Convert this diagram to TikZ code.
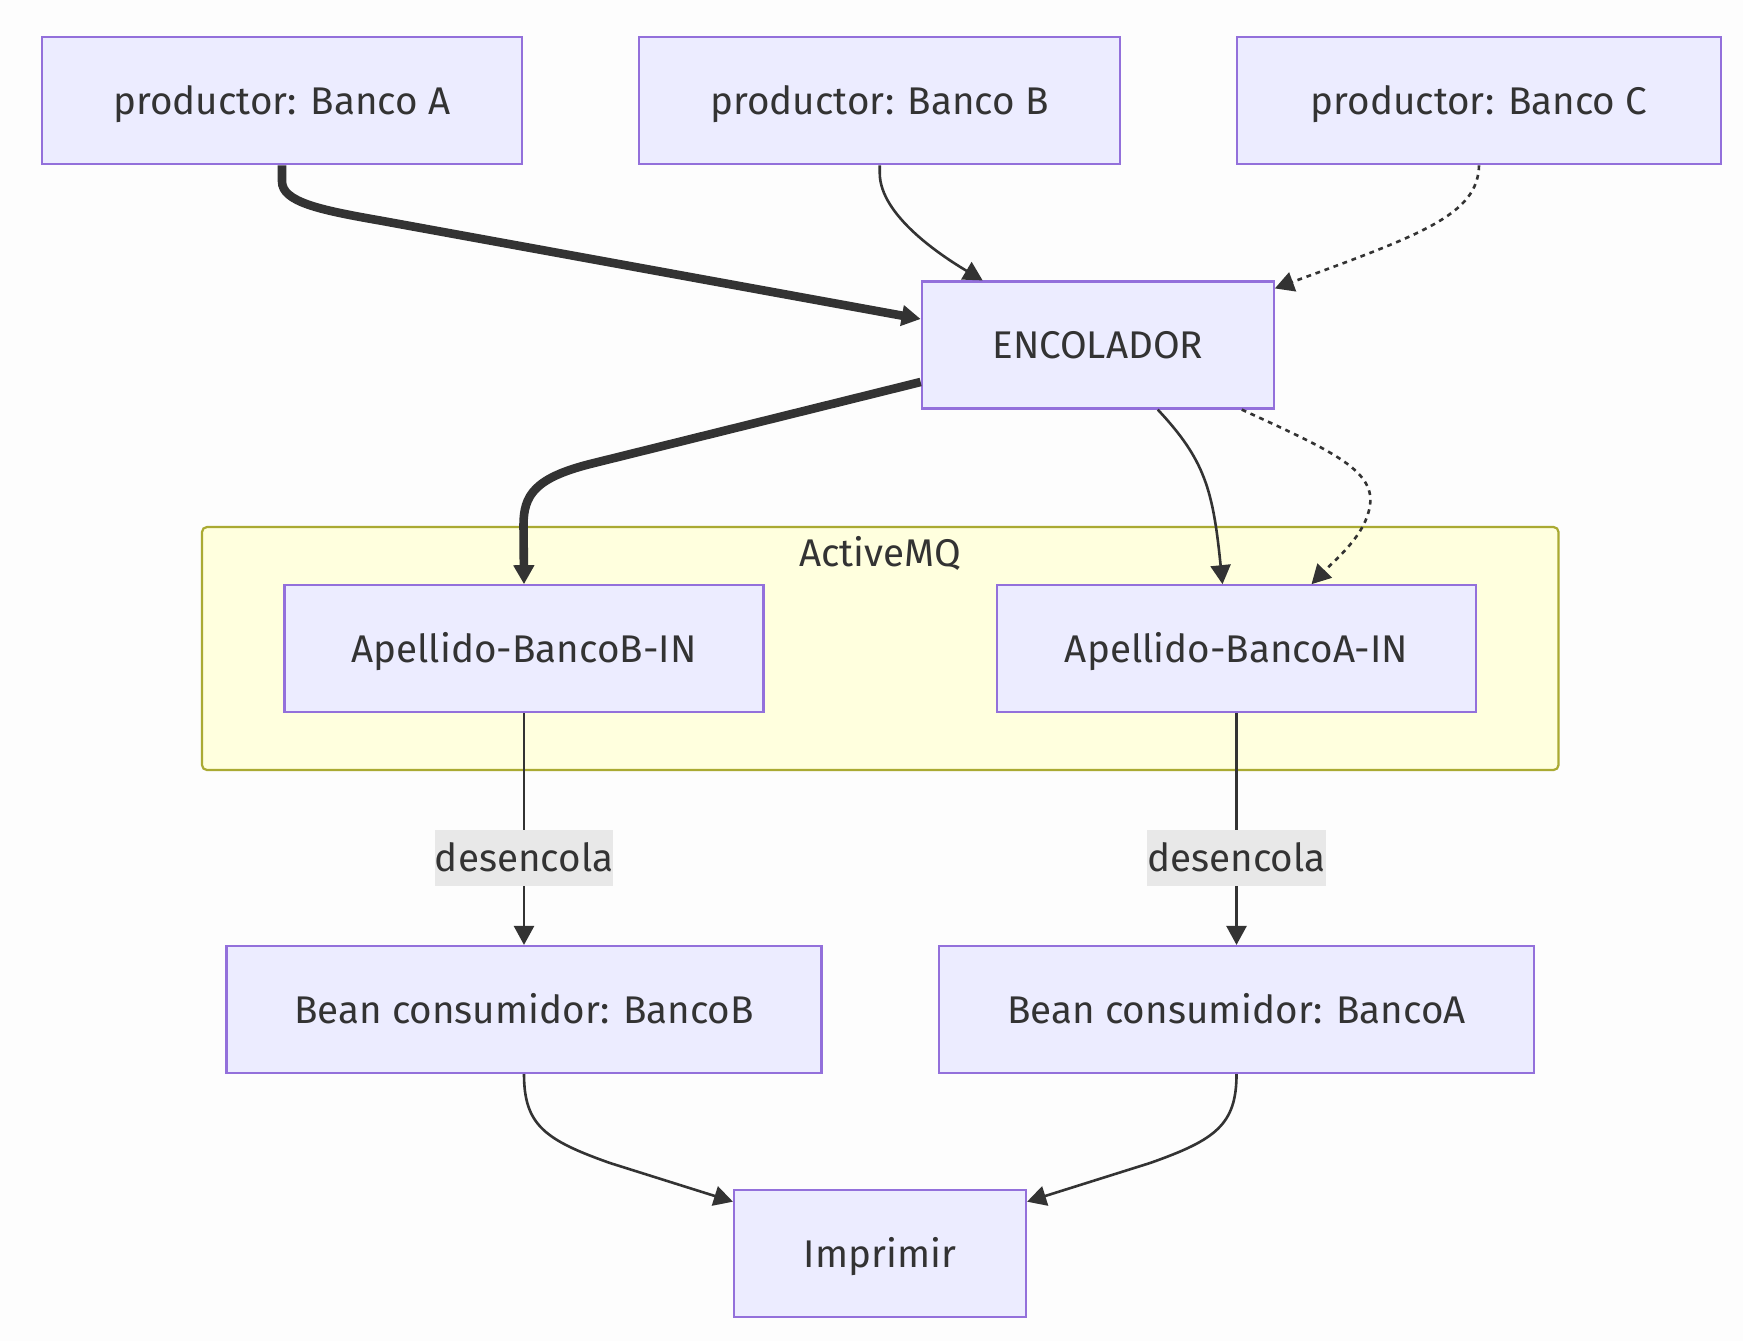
\documentclass[tikz,border=0pt]{standalone}
\usepackage{fontspec}
\setmainfont{Fira Sans}
\usetikzlibrary{arrows.meta,calc}
\definecolor{nodefill}{HTML}{ECECFF}
\definecolor{nodeline}{HTML}{9370DB}
\definecolor{clfill}{HTML}{FFFFDE}
\definecolor{clline}{HTML}{AAAA33}
\definecolor{ink}{HTML}{333333}
\definecolor{lblbg}{HTML}{E8E8E8}
\definecolor{bgc}{HTML}{FDFDFD}
\begin{document}
\begin{tikzpicture}[x=0.5pt,y=-0.5pt,
  txt/.style={text=ink,font=\fontsize{19.3}{23}\selectfont,text height=16pt,text depth=2.2pt},
  box/.style={txt,draw=nodeline,fill=nodefill,line width=1.1pt,minimum height=63.5pt,inner sep=0pt},
  cluster/.style={draw=clline,fill=clfill,line width=1.1pt,rounded corners=2.5pt},
  lbl/.style={txt,fill=lblbg,inner xsep=0pt,inner ysep=0pt,minimum height=28pt},
  conn/.style={draw=ink,line width=1.3pt,-{Triangle[length=9.5pt,width=10pt]}},
  thickconn/.style={conn,line width=4.3pt},
  dotconn/.style={conn,dash pattern=on 2.4pt off 2.4pt}
]
\useasboundingbox (0,0) rectangle (1743,1341);
\fill[bgc] (0,0) rectangle (1743,1341);
% cluster
\draw[cluster] (202,527) rectangle (1558.5,770);
\node[txt] (amq) at (880,553) {ActiveMQ};
% nodes
\node[box,minimum width=240pt] (A) at (282,100.75) {productor: Banco A};
\node[box,minimum width=240.5pt] (B) at (879.75,100.75) {productor: Banco B};
\node[box,minimum width=242pt] (C) at (1479,100.75) {productor: Banco C};
\node[box,minimum width=176pt] (E) at (1097.75,345) {ENCOLADOR};
\node[box,minimum width=239.5pt] (QB) at (524,648.75) {Apellido-BancoB-IN};
\node[box,minimum width=239.5pt] (QA) at (1236.5,648.75) {Apellido-BancoA-IN};
\node[box,minimum width=297.5pt] (CB) at (524,1009.5) {Bean consumidor: BancoB};
\node[box,minimum width=297.5pt] (CA) at (1236.5,1009.5) {Bean consumidor: BancoA};
\node[box,minimum width=146pt] (P) at (880,1253.75) {Imprimir};
% endpoints
\coordinate (eA) at ($(E.west)+(0,-26)$);
\coordinate (eB) at ($(E.north west)+(62,0)$);
\coordinate (eC) at ($(E.north east)+(0,8)$);
\coordinate (sQB) at ($(E.west)+(0,37)$);
\coordinate (sQA) at ($(E.south)+(60,0)$);
\coordinate (tQA) at ($(QA.north)+(-14,0)$);
\coordinate (sQA2) at ($(E.south)+(144,0)$);
\coordinate (tQA2) at ($(QA.north)+(75,0)$);
\coordinate (pW) at ($(P.north west)+(0,12.5)$);
\coordinate (pE) at ($(P.north east)+(0,12.5)$);
% edges
\draw[thickconn] (A.south) -- ++(0,16) .. controls (282,202) and (320,210) .. (380,220.5) -- (eA);
\draw[conn] (B.south) -- ++(0,8) .. controls (880,215) and (940,255) .. (eB);
\draw[dotconn] (C.south) .. controls (1478,215) and (1420,235) .. (eC);
\draw[thickconn] (sQB) -- (590,464) .. controls (535,478) and (523.5,495) .. (523.5,525) -- (QB.north);
\draw[conn] (sQA) .. controls (1205,460) and (1213,490) .. (tQA);
\draw[dotconn] (sQA2) .. controls (1330,450) and (1375,470) .. (1370,505) .. controls (1366,535) and (1335,560) .. (tQA2);
\draw[conn] (QB.south) -- (CB.north);
\draw[conn] (QA.south) -- (CA.north);
\node[lbl] (l1) at (524,858) {desencola};
\node[lbl] (l2) at (1236.5,858) {desencola};
\draw[conn] (CB.south) .. controls (524,1125) and (545,1140) .. (610,1163) -- (pW);
\draw[conn] (CA.south) .. controls (1236.5,1125) and (1215,1140) .. (1150,1163) -- (pE);
\end{tikzpicture}
\end{document}
